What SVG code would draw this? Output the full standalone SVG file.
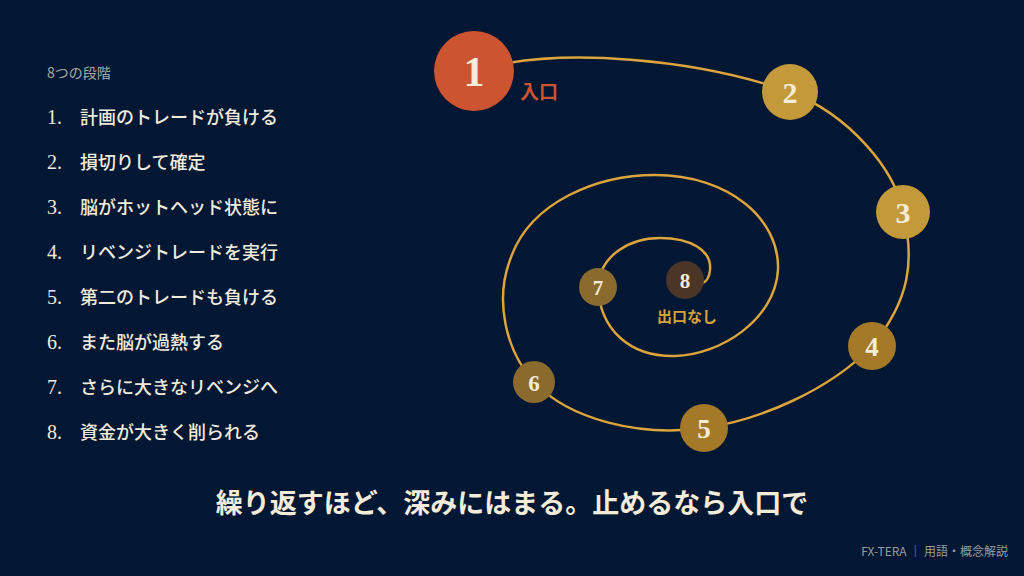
<svg xmlns="http://www.w3.org/2000/svg" width="1024" height="576" viewBox="0 0 1024 576">
<style>
.num{font-family:"Liberation Serif",serif;fill:#f4ecd8;text-anchor:middle;font-weight:bold}
.li{font-family:"Noto Sans CJK JP",sans-serif;fill:#f1ebdc;font-size:18px;font-weight:500}
.ln{font-family:"Liberation Serif",serif;fill:#f1ebdc;font-size:20px}
</style>
<rect width="1024" height="576" fill="#011734"/>
<g id="list">
<text x="47" y="78" font-family="Noto Sans CJK JP,sans-serif" font-size="14" fill="#a8a9a6">8つの段階</text>
<g class="li">
<text x="47" y="124"><tspan class="ln">1.</tspan><tspan x="80">計画のトレードが負ける</tspan></text>
<text x="47" y="169"><tspan class="ln">2.</tspan><tspan x="80">損切りして確定</tspan></text>
<text x="47" y="214"><tspan class="ln">3.</tspan><tspan x="80">脳がホットヘッド状態に</tspan></text>
<text x="47" y="259"><tspan class="ln">4.</tspan><tspan x="80">リベンジトレードを実行</tspan></text>
<text x="47" y="304"><tspan class="ln">5.</tspan><tspan x="80">第二のトレードも負ける</tspan></text>
<text x="47" y="349"><tspan class="ln">6.</tspan><tspan x="80">また脳が過熱する</tspan></text>
<text x="47" y="394"><tspan class="ln">7.</tspan><tspan x="80">さらに大きなリベンジへ</tspan></text>
<text x="47" y="439"><tspan class="ln">8.</tspan><tspan x="80">資金が大きく削られる</tspan></text>
</g>
</g>
<g id="connectors">
<path d="M474,71 C560,45 700,60 790,92 C850,115 895,170 903,212 C915,260 910,300 872,346 C830,390 760,420 704,428 C640,437 570,420 534,382 C505,350 495,300 510,260 C530,200 600,175 655,175 C730,175 780,220 778,270 C775,320 720,355 675,356 C630,357 600,330 598,287 C600,255 630,238 660,238 C690,238 712,250 710,270 C709,282 700,290 685,280" fill="none" stroke="#dca43a" stroke-width="2.5"/>
</g>
<g id="n1"><circle cx="474" cy="71" r="40" fill="#cc5430"/><text class="num" x="474" y="86" font-size="42">1</text><text x="520" y="99" font-family="Noto Sans CJK JP,sans-serif" font-size="19" font-weight="bold" fill="#cc5430">入口</text></g>
<g id="n2"><circle cx="790" cy="92" r="28" fill="#c4993a"/><text class="num" x="790" y="103" font-size="30">2</text></g>
<g id="n3"><circle cx="903" cy="212" r="27" fill="#c4993a"/><text class="num" x="903" y="223" font-size="30">3</text></g>
<g id="n4"><circle cx="872" cy="346" r="24" fill="#a47a28"/><text class="num" x="872" y="356" font-size="27">4</text></g>
<g id="n5"><circle cx="704" cy="428" r="24" fill="#a47a28"/><text class="num" x="704" y="438" font-size="27">5</text></g>
<g id="n6"><circle cx="534" cy="382" r="21" fill="#8b6a2e"/><text class="num" x="534" y="391" font-size="23">6</text></g>
<g id="n7"><circle cx="598" cy="287" r="19" fill="#8b6a2e"/><text class="num" x="598" y="295" font-size="21">7</text></g>
<g id="n8"><circle cx="685" cy="280" r="19" fill="#4a3526"/><text class="num" x="685" y="288" font-size="21">8</text><text x="687" y="322" text-anchor="middle" font-family="Noto Sans CJK JP,sans-serif" font-size="15" font-weight="bold" fill="#d6a33a">出口なし</text></g>
<text x="512" y="513" text-anchor="middle" font-family="Noto Sans CJK JP,sans-serif" font-size="27" font-weight="bold" fill="#f4ecd8">繰り返すほど、深みにはまる。止めるなら入口で</text>
<text x="1008" y="556" text-anchor="end" font-family="Noto Sans CJK JP,sans-serif" font-size="12" fill="#9a9c9e">FX-TERA ｜ 用語・概念解説</text>
</svg>
